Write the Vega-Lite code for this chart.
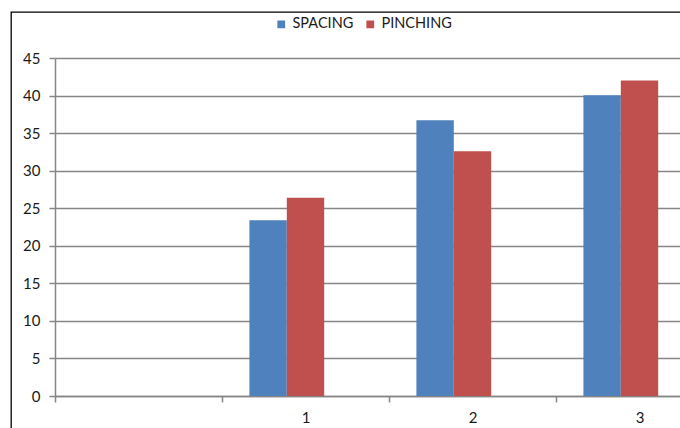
{
  "$schema": "https://vega.github.io/schema/vega-lite/v6.json",
  "autosize": "none",
  "width": 669,
  "height": 416,
  "padding": {"left": 11, "top": 12, "right": 0, "bottom": 0},
  "background": "white",
  "config": {
    "view": {"stroke": "#000000", "strokeWidth": 1.3, "strokeDash": [669, 1085, 416, 0]},
    "font": "Lato",
    "axis": {"labelFont": "Lato", "labelFontSize": 15, "labelColor": "#1a1a1a", "domainColor": "#868686", "tickColor": "#868686", "domainWidth": 1.5, "tickWidth": 1.5, "title": null}
  },
  "data": {
    "values": [
      {"cat": "1", "series": "SPACING", "value": 23.4},
      {"cat": "1", "series": "PINCHING", "value": 26.4},
      {"cat": "2", "series": "SPACING", "value": 36.7},
      {"cat": "2", "series": "PINCHING", "value": 32.6},
      {"cat": "3", "series": "SPACING", "value": 40.05},
      {"cat": "3", "series": "PINCHING", "value": 42.0}
    ]
  },
  "mark": {"type": "bar", "clip": true},
  "encoding": {
    "x": {
      "field": "cat",
      "type": "nominal",
      "scale": {"domain": ["0", "1", "2", "3"], "range": [44, 712], "paddingInner": 0, "paddingOuter": 0},
      "axis": {
        "offset": -32,
        "tickBand": "extent",
        "tickSize": 6,
        "labelAngle": 0,
        "labelPadding": 8,
        "labelExpr": "datum.value == '0' ? '' : datum.value",
        "grid": false
      }
    },
    "xOffset": {
      "field": "series",
      "type": "nominal",
      "scale": {"domain": ["SPACING", "PINCHING", "BLANK"], "paddingInner": 0, "paddingOuter": 0.733}
    },
    "y": {
      "field": "value",
      "type": "quantitative",
      "scale": {"domain": [0, 45], "range": [384, 46], "nice": false, "zero": true},
      "axis": {
        "offset": -44,
        "values": [0, 5, 10, 15, 20, 25, 30, 35, 40, 45],
        "tickSize": 6,
        "labelPadding": 9,
        "grid": true,
        "gridColor": "#868686",
        "gridWidth": 1.5
      }
    },
    "color": {
      "field": "series",
      "type": "nominal",
      "scale": {"domain": ["SPACING", "PINCHING"], "range": ["#4F81BD", "#C0504D"]},
      "legend": {
        "title": null,
        "orient": "none",
        "direction": "horizontal",
        "legendX": 263,
        "legendY": 5,
        "symbolType": "square",
        "symbolSize": 60,
        "symbolStrokeWidth": 0,
        "labelFont": "Lato",
        "labelFontSize": 14.5,
        "labelColor": "#1a1a1a",
        "labelOffset": 4,
        "columnPadding": 9,
        "padding": 0
      }
    }
  }
}
